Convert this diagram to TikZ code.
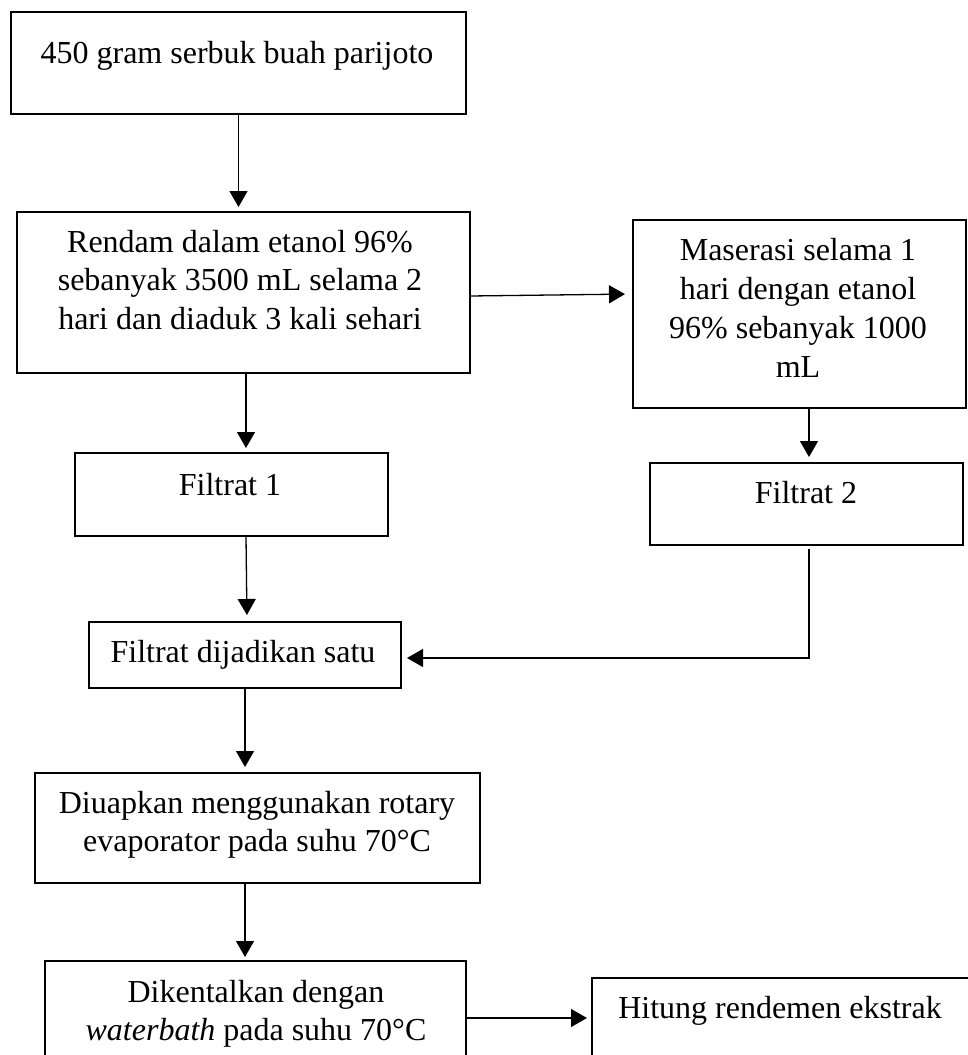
\documentclass[tikz,border=0pt]{standalone}
\usepackage{fontspec}
\setmainfont{Liberation Serif}
\usetikzlibrary{arrows.meta,calc}
\newcommand{\firstline}{\rule{0pt}{24pt}}
\begin{document}
\begin{tikzpicture}[x=1pt,y=-1pt,
  box/.style={draw, line width=2.3pt, inner sep=0pt, outer sep=0pt, rectangle},
  txt/.style={anchor=north, inner sep=0pt, align=center, font=\fontsize{32}{38.5}\selectfont},
  arr/.style={line width=1.3pt, -{Triangle[length=16pt,width=18pt]}}]
\useasboundingbox (0,0) rectangle (968,1055);
% boxes
\node[box, minimum width=455pt, minimum height=102pt] (b1) at (238.5,63) {};
\node[box, minimum width=453pt, minimum height=161pt] (b2) at (243.5,292.5) {};
\node[box, minimum width=333pt, minimum height=188pt] (b3) at (799.5,314) {};
\node[box, minimum width=313pt, minimum height=83pt] (f1) at (231.5,494.5) {};
\node[box, minimum width=313pt, minimum height=82pt] (f2) at (806.5,504) {};
\node[box, minimum width=312pt, minimum height=66pt] (comb) at (245,655) {};
\node[box, minimum width=445pt, minimum height=110pt] (d) at (257.5,828) {};
\node[box, minimum width=421pt, minimum height=119pt] (k) at (255.5,1020.5) {};
\node[box, minimum width=380pt, minimum height=102pt] (h) at (782,1029) {};
% texts
\node[txt] (t1) at (237,39) {\firstline 450 gram serbuk buah parijoto};
\node[txt] (t2) at (240,228) {\firstline Rendam dalam etanol 96\%\\sebanyak 3500 mL selama 2\\hari dan diaduk 3 kali sehari};
\node[txt, font=\fontsize{32}{39}\selectfont] (t3) at (798,236) {\firstline Maserasi selama 1\\hari dengan etanol\\96\% sebanyak 1000\\mL};
\node[txt] (t4) at (230,471) {\firstline Filtrat 1};
\node[txt] (t5) at (806,479) {\firstline Filtrat 2};
\node[txt] (t6) at (243,638) {\firstline Filtrat dijadikan satu};
\node[txt] (t7) at (257,789) {\firstline Diuapkan menggunakan rotary\\evaporator pada suhu 70°C};
\node[txt] (t8) at (256,978) {\firstline Dikentalkan dengan\\\textit{waterbath} pada suhu 70°C};
\node[txt] (t9) at (780,994) {\firstline Hitung rendemen ekstrak};
% connectors
\draw[arr, shorten >=5pt] (b1.south) -- (b1.south |- b2.north);
\draw[arr, shorten >=8pt] ([yshift=-3.5pt]b2.east) -- ([yshift=20pt]b3.west);
\draw[arr, shorten >=5pt] ([xshift=2.5pt]b2.south) -- ([xshift=2.5pt]b2.south |- f1.north);
\draw[arr, shorten >=6pt] ([xshift=9.5pt]b3.south) -- ([xshift=9.5pt]b3.south |- f2.north);
\draw[arr, shorten >=7pt] ([xshift=14.5pt]f1.south) -- ([xshift=2pt]comb.north);
\draw[arr, shorten >=6pt, line join=miter] ([xshift=2.5pt,yshift=-4pt]f2.south) |- ([yshift=-3pt]comb.east);
\draw[arr, shorten >=6pt] (comb.south) -- (comb.south |- d.north);
\draw[arr, shorten >=4pt] ([xshift=-12.5pt]d.south) -- ([xshift=-12.5pt]d.south |- k.north);
\draw[arr, shorten >=5pt] ([yshift=2.5pt]k.east) -- ([yshift=2.5pt]k.east -| h.west);
\end{tikzpicture}
\end{document}
